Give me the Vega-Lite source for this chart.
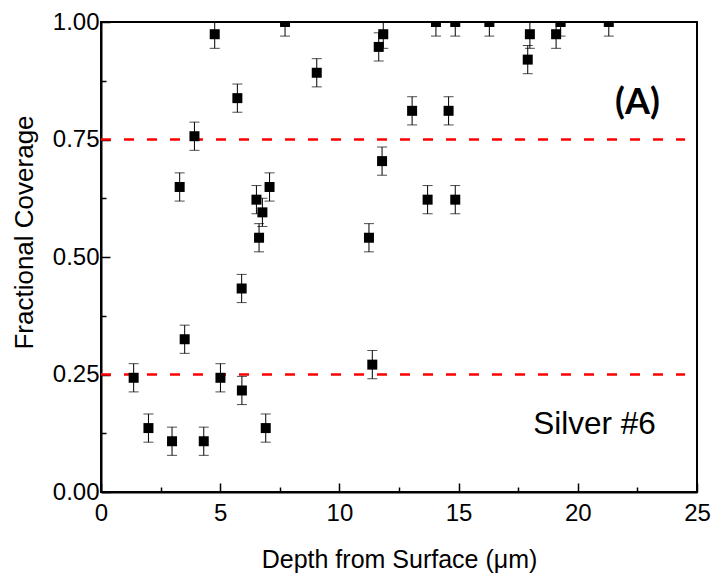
{
  "$schema": "https://vega.github.io/schema/vega-lite/v6.json",
  "width": 596,
  "height": 470,
  "autosize": "none",
  "padding": {"left": 101, "top": 22, "right": 17, "bottom": 87},
  "background": "white",
  "config": {
    "font": "Liberation Sans",
    "view": {"stroke": "black", "strokeWidth": 2},
    "axis": {"grid": false, "domainColor": "black", "domainWidth": 2, "tickColor": "black", "tickWidth": 1.5, "labelColor": "black", "titleColor": "black", "labelFont": "Liberation Sans", "titleFont": "Liberation Sans", "titleFontWeight": "normal"}
  },
  "datasets": {
    "pts": [
      {"x": 1.37, "y": 0.243, "err": 0.03},
      {"x": 1.99, "y": 0.136, "err": 0.03},
      {"x": 2.98, "y": 0.108, "err": 0.03},
      {"x": 3.30, "y": 0.649, "err": 0.03},
      {"x": 3.51, "y": 0.325, "err": 0.03},
      {"x": 3.92, "y": 0.757, "err": 0.03},
      {"x": 4.31, "y": 0.108, "err": 0.03},
      {"x": 4.77, "y": 0.974, "err": 0.03},
      {"x": 5.01, "y": 0.243, "err": 0.03},
      {"x": 5.72, "y": 0.838, "err": 0.03},
      {"x": 5.90, "y": 0.433, "err": 0.03},
      {"x": 5.91, "y": 0.216, "err": 0.03},
      {"x": 6.52, "y": 0.622, "err": 0.03},
      {"x": 6.63, "y": 0.541, "err": 0.03},
      {"x": 6.77, "y": 0.595, "err": 0.03},
      {"x": 6.91, "y": 0.136, "err": 0.03},
      {"x": 7.07, "y": 0.649, "err": 0.03},
      {"x": 7.72, "y": 1.0, "err": 0.03},
      {"x": 9.05, "y": 0.892, "err": 0.03},
      {"x": 11.24, "y": 0.541, "err": 0.03},
      {"x": 11.38, "y": 0.271, "err": 0.03},
      {"x": 11.65, "y": 0.947, "err": 0.03},
      {"x": 11.79, "y": 0.704, "err": 0.03},
      {"x": 11.84, "y": 0.974, "err": 0.03},
      {"x": 13.05, "y": 0.811, "err": 0.03},
      {"x": 13.70, "y": 0.622, "err": 0.03},
      {"x": 14.05, "y": 1.0, "err": 0.03},
      {"x": 14.58, "y": 0.811, "err": 0.03},
      {"x": 14.86, "y": 1.0, "err": 0.03},
      {"x": 14.86, "y": 0.622, "err": 0.03},
      {"x": 16.29, "y": 1.0, "err": 0.03},
      {"x": 17.90, "y": 0.92, "err": 0.03},
      {"x": 17.99, "y": 0.974, "err": 0.03},
      {"x": 19.09, "y": 0.974, "err": 0.03},
      {"x": 19.28, "y": 1.0, "err": 0.03},
      {"x": 21.30, "y": 1.0, "err": 0.03}
    ],
    "refs": [
      {"x1": 0, "x2": 24.5, "y": 0.75},
      {"x1": 0, "x2": 24.5, "y": 0.25}
    ],
    "labels": [
      {"x": 22.5, "y": 0.805, "text": "(A)", "kind": "panel"},
      {"x": 20.7, "y": 0.124, "text": "Silver #6", "kind": "sample"}
    ]
  },
  "layer": [
    {
      "data": {"name": "refs"},
      "mark": {"type": "rule", "color": "#ff0000", "strokeWidth": 2.5, "strokeDash": [10, 13], "clip": true},
      "encoding": {
        "x": {
          "field": "x1", "type": "quantitative",
          "title": "Depth from Surface (μm)",
          "scale": {"domain": [0, 25], "nice": false, "zero": false},
          "axis": {
            "values": [0, 2.5, 5, 7.5, 10, 12.5, 15, 17.5, 20, 22.5, 25],
            "labelExpr": "datum.value % 5 === 0 ? format(datum.value, 'd') : ''",
            "labelFontSize": 24,
            "labelPadding": 18,
            "labelFlush": false,
            "tickSize": {"condition": {"test": "datum.value % 5 !== 0", "value": -5}, "value": -9},
            "titleFontSize": 25,
            "titleY": 75,
            "titleBaseline": "alphabetic"
          }
        },
        "x2": {"field": "x2"},
        "y": {
          "field": "y", "type": "quantitative",
          "title": "Fractional Coverage",
          "scale": {"domain": [0, 1], "nice": false},
          "axis": {
            "values": [0, 0.125, 0.25, 0.375, 0.5, 0.625, 0.75, 0.875, 1],
            "labelExpr": "(datum.value * 4) % 1 === 0 ? format(datum.value, '.2f') : ''",
            "labelFontSize": 24,
            "labelPadding": 11,
            "labelFlush": false,
            "tickSize": {"condition": {"test": "(datum.value * 4) % 1 !== 0", "value": -5}, "value": -9},
            "titleFontSize": 26,
            "titleX": -69,
            "titleY": 210,
            "titleBaseline": "alphabetic"
          }
        }
      }
    },
    {
      "data": {"name": "pts"},
      "mark": {"type": "errorbar", "ticks": {"size": 10, "color": "black", "strokeWidth": 1}, "rule": {"color": "black", "strokeWidth": 1}, "clip": true},
      "encoding": {
        "x": {"field": "x", "type": "quantitative", "title": "Depth from Surface (μm)"},
        "y": {"field": "y", "type": "quantitative", "title": "Fractional Coverage"},
        "yError": {"field": "err"}
      }
    },
    {
      "data": {"name": "pts"},
      "mark": {"type": "point", "shape": "square", "filled": true, "size": 100, "color": "black", "opacity": 1, "clip": true},
      "encoding": {
        "x": {"field": "x", "type": "quantitative", "title": "Depth from Surface (μm)"},
        "y": {"field": "y", "type": "quantitative", "title": "Fractional Coverage"}
      }
    },
    {
      "data": {"name": "labels"},
      "transform": [{"filter": "datum.kind === 'panel'"}],
      "mark": {"type": "text", "font": "Lato", "fontWeight": "bold", "fontSize": 36, "align": "center", "baseline": "alphabetic", "color": "black"},
      "encoding": {
        "x": {"field": "x", "type": "quantitative", "title": "Depth from Surface (μm)"},
        "y": {"field": "y", "type": "quantitative", "title": "Fractional Coverage"},
        "text": {"field": "text"}
      }
    },
    {
      "data": {"name": "labels"},
      "transform": [{"filter": "datum.kind === 'sample'"}],
      "mark": {"type": "text", "font": "Liberation Sans", "fontSize": 31.5, "align": "center", "baseline": "alphabetic", "color": "black"},
      "encoding": {
        "x": {"field": "x", "type": "quantitative", "title": "Depth from Surface (μm)"},
        "y": {"field": "y", "type": "quantitative", "title": "Fractional Coverage"},
        "text": {"field": "text"}
      }
    }
  ]
}
